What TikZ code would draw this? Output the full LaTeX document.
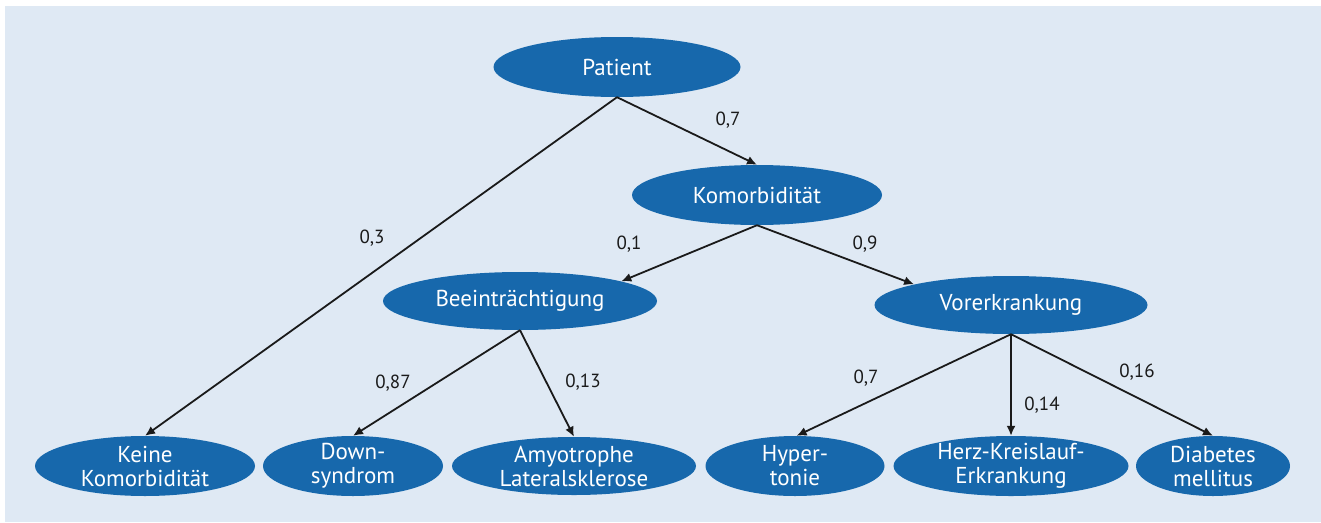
\documentclass[tikz,border=0pt]{standalone}
\usepackage{fontspec}
\setmainfont{PT Sans}
\usetikzlibrary{shapes.geometric,arrows.meta}
\definecolor{bgblue}{HTML}{DFE9F4}
\definecolor{nodeblue}{HTML}{1768AC}
\definecolor{ink}{HTML}{1A1A1A}
\begin{document}
\begin{tikzpicture}[x=1pt,y=-1pt,
  ell/.style={ellipse,fill=nodeblue,draw=none,inner sep=0pt},
  txt/.style={text=white,align=center,font=\fontsize{23}{24}\selectfont,inner sep=0pt},
  lbl/.style={text=ink,font=\fontsize{19}{22}\selectfont,inner sep=0pt},
  arr/.style={draw=ink,line width=1.8pt,-{Latex[length=10pt,width=9pt]}}
]
\path[use as bounding box] (0,0) rectangle (1321,522);
\fill[bgblue] (5,6) rectangle (1321,522);

\node[ell,minimum width=247pt,minimum height=60pt,label={[txt]center:Patient}] (pat) at (617,67) {};
\node[ell,minimum width=250pt,minimum height=60pt,label={[txt]center:Komorbidität}] (kom) at (757,195) {};
\node[ell,minimum width=274pt,minimum height=58pt,label={[txt]center:Beeinträchtigung}] (bee) at (520,301) {};
\node[ell,minimum width=273pt,minimum height=58pt,label={[txt]center:Vorerkrankung}] (vor) at (1011,305) {};

\node[ell,minimum width=220pt,minimum height=60pt,label={[txt]center:Keine\\Komorbidität}] (kei) at (145,466) {};
\node[ell,minimum width=180pt,minimum height=60pt,label={[txt]center:Down-\\syndrom}] (dow) at (353,466) {};
\node[ell,minimum width=244pt,minimum height=58pt,label={[txt]center:Amyotrophe\\Lateralsklerose}] (amy) at (574,466) {};
\node[ell,minimum width=179pt,minimum height=60pt,label={[txt]center:Hyper-\\tonie}] (hyp) at (795,466) {};
\node[ell,minimum width=235pt,minimum height=60pt,label={[txt]center:Herz-Kreislauf-\\Erkrankung}] (her) at (1011,466) {};
\node[ell,minimum width=154pt,minimum height=60pt,label={[txt]center:Diabetes\\mellitus}] (dia) at (1213,466) {};

\draw[arr] (pat.south) -- (kom.north);
\draw[arr] (pat.south) -- (kei.north);
\draw[arr] (kom.south) -- (bee.11.7);
\draw[arr] (kom.south) -- (vor.168.4);
\draw[arr] (bee.south) -- (dow.north);
\draw[arr] (bee.south) -- (amy.north);
\draw[arr] (vor.south) -- (hyp.87);
\draw[arr] (vor.south) -- (her.north);
\draw[arr] (vor.south) -- (dia.north);

\node[lbl] (p1) at (728,120) {0,7};
\node[lbl] (p2) at (372,238) {0,3};
\node[lbl] (p3) at (629,244) {0,1};
\node[lbl] (p4) at (865,244) {0,9};
\node[lbl] (p5) at (393,383) {0,87};
\node[lbl] (p6) at (583,382) {0,13};
\node[lbl] (p7) at (866,378) {0,7};
\node[lbl] (p8) at (1042,405) {0,14};
\node[lbl] (p9) at (1137,372) {0,16};
\end{tikzpicture}
\end{document}
